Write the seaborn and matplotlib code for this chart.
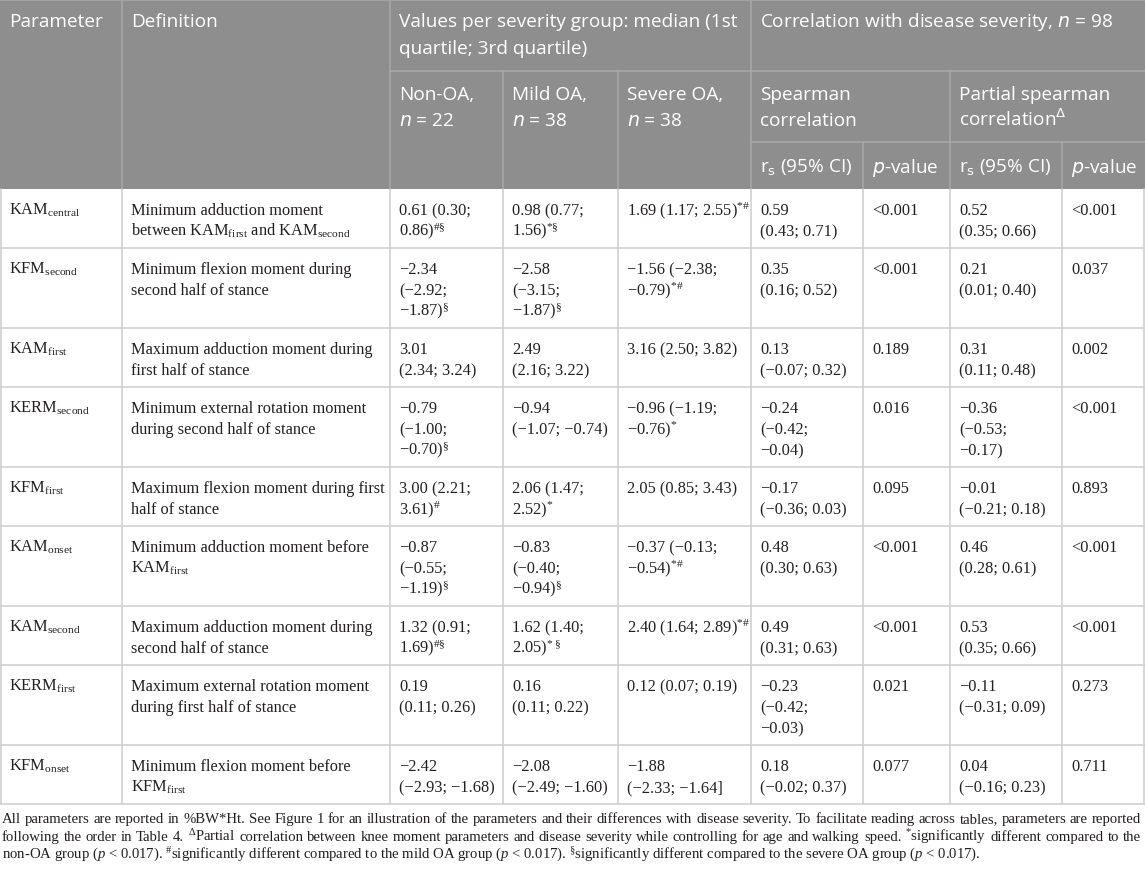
import matplotlib
matplotlib.use("Agg")
import matplotlib.pyplot as plt
import seaborn as sns

# table content, "|" marks a line break inside a cell
def sup(marks):
    rep = {"*": "*", "#": r"\#", "§": r"\mathrm{§}", " ": r"\;"}
    return "$^{" + "".join(rep[m] for m in marks) + "}$"

params = ["KAM$_{\\mathrm{central}}$", "KFM$_{\\mathrm{second}}$", "KAM$_{\\mathrm{first}}$",
          "KERM$_{\\mathrm{second}}$", "KFM$_{\\mathrm{first}}$", "KAM$_{\\mathrm{onset}}$",
          "KAM$_{\\mathrm{second}}$", "KERM$_{\\mathrm{first}}$", "KFM$_{\\mathrm{onset}}$"]

definitions = [
    "Minimum adduction moment|between KAM$_{\\mathrm{first}}$ and KAM$_{\\mathrm{second}}$",
    "Minimum flexion moment during|second half of stance",
    "Maximum adduction moment during|first half of stance",
    "Minimum external rotation moment|during second half of stance",
    "Maximum flexion moment during first|half of stance",
    "Minimum adduction moment before|KAM$_{\\mathrm{first}}$",
    "Maximum adduction moment during|second half of stance",
    "Maximum external rotation moment|during first half of stance",
    "Minimum flexion moment before|KFM$_{\\mathrm{first}}$",
]

non_oa = ["0.61 (0.30;|0.86)" + sup("#§"), "−2.34|(−2.92;|−1.87)" + sup("§"), "3.01|(2.34; 3.24)",
          "−0.79|(−1.00;|−0.70)" + sup("§"), "3.00 (2.21;|3.61)" + sup("#"),
          "−0.87|(−0.55;|−1.19)" + sup("§"), "1.32 (0.91;|1.69)" + sup("#§"),
          "0.19|(0.11; 0.26)", "−2.42|(−2.93; −1.68)"]

mild_oa = ["0.98 (0.77;|1.56)" + sup("*§"), "−2.58|(−3.15;|−1.87)" + sup("§"), "2.49|(2.16; 3.22)",
           "−0.94|(−1.07; −0.74)", "2.06 (1.47;|2.52)" + sup("*"),
           "−0.83|(−0.40;|−0.94)" + sup("§"), "1.62 (1.40;|2.05)" + sup("* §"),
           "0.16|(0.11; 0.22)", "−2.08|(−2.49; −1.60)"]

severe_oa = ["1.69 (1.17; 2.55)" + sup("*#"), "−1.56 (−2.38;|−0.79)" + sup("*#"), "3.16 (2.50; 3.82)",
             "−0.96 (−1.19;|−0.76)" + sup("*"), "2.05 (0.85; 3.43)",
             "−0.37 (−0.13;|−0.54)" + sup("*#"), "2.40 (1.64; 2.89)" + sup("*#"),
             "0.12 (0.07; 0.19)", "−1.88|(−2.33; −1.64]"]

rs_spearman = ["0.59|(0.43; 0.71)", "0.35|(0.16; 0.52)", "0.13|(−0.07; 0.32)", "−0.24|(−0.42;|−0.04)",
               "−0.17|(−0.36; 0.03)", "0.48|(0.30; 0.63)", "0.49|(0.31; 0.63)", "−0.23|(−0.42;|−0.03)",
               "0.18|(−0.02; 0.37)"]
p_spearman = ["<0.001", "<0.001", "0.189", "0.016", "0.095", "<0.001", "<0.001", "0.021", "0.077"]

rs_partial = ["0.52|(0.35; 0.66)", "0.21|(0.01; 0.40)", "0.31|(0.11; 0.48)", "−0.36|(−0.53;|−0.17)",
              "−0.01|(−0.21; 0.18)", "0.46|(0.28; 0.61)", "0.53|(0.35; 0.66)", "−0.11|(−0.31; 0.09)",
              "0.04|(−0.16; 0.23)"]
p_partial = ["<0.001", "0.037", "0.002", "<0.001", "0.893", "<0.001", "<0.001", "0.273", "0.711"]

header_top = ["Parameter", "Definition", "Values per severity group: median (1st|quartile; 3rd quartile)",
              "Correlation with disease severity, $n$ = 98"]
header_mid = ["Non-OA,|$n$ = 22", "Mild OA,|$n$ = 38", "Severe OA,|$n$ = 38", "Spearman|correlation",
              "Partial spearman|correlation$^{\\Delta}$"]
header_low = ["r$_{\\mathrm{s}}$ (95% CI)", "$p$-value", "r$_{\\mathrm{s}}$ (95% CI)", "$p$-value"]

footnote = [
    "All parameters are reported in %BW*Ht. See Figure 1 for an illustration of the parameters and their "
    "differences with disease severity. To facilitate reading across tables, parameters are reported",
    "following the order in Table 4. $^{\\Delta}$Partial correlation between knee moment parameters and disease "
    "severity while controlling for age and walking speed. $^{*}$significantly different compared to the",
    "non-OA group ($p$ < 0.017). $^{\\#}$significantly different compared to the mild OA group ($p$ < 0.017). "
    "$^{\\mathrm{§}}$significantly different compared to the severe OA group ($p$ < 0.017).",
]

sns.set_theme(style="white")
plt.rcParams["font.family"] = ["Liberation Serif", "DejaVu Serif"]
plt.rcParams["mathtext.fontset"] = "custom"
plt.rcParams["mathtext.rm"] = "Liberation Serif"
plt.rcParams["mathtext.it"] = "Liberation Serif:italic"
plt.rcParams["mathtext.bf"] = "Liberation Serif:bold"

W, H = 1145, 871
fig = plt.figure(figsize=(W / 100, H / 100), dpi=100)
ax = fig.add_axes([0, 0, 1, 1])
ax.set_xlim(0, W)
ax.set_ylim(H, 0)
ax.axis("off")
rend = fig.canvas.get_renderer()

HEAD_BG = "#8e8e8e"
HEAD_LINE = "#a9a9a9"
BODY_LINE = "#cdcdcd"
INK = "#231f20"
HEAD_FONT = ["Open Sans", "DejaVu Sans"]

cols = [0, 122, 390, 503, 618, 751, 863, 950, 1062, 1145]
pad = 9
h1, h2, h3 = 71, 142, 189


def width_of(s, size, **kw):
    t = ax.text(0, 0, s, fontsize=size, **kw)
    w = t.get_window_extent(renderer=rend).width
    t.remove()
    return w


def put(x, yb, s, size, step, **kw):
    for i, line in enumerate(s.split("|")):
        ax.text(x, yb + i * step, line, fontsize=size, va="baseline", ha="left", **kw)


head_size = 10 * 338 / width_of("Values per severity group: median (1st", 10, family=HEAD_FONT)
body_size = 10 * 220 / width_of("Minimum flexion moment before", 10)
foot_size = 10 * 1140 / width_of(footnote[0], 10)

# header block
ax.axhspan(0, h3, color=HEAD_BG, lw=0, zorder=0)
hk = dict(color="white", family=HEAD_FONT, math_fontfamily="dejavusans")
for c, s in zip([0, 1, 2, 5], header_top):
    put(cols[c] + pad, 27, s, head_size, 27, **hk)
for c, s in zip([2, 3, 4, 5, 7], header_mid):
    put(cols[c] + pad, h1 + 29, s, head_size, 26, **hk)
for c, s in zip([5, 6, 7, 8], header_low):
    put(cols[c] + pad, h2 + 31, s, head_size, 26, **hk)

lk = dict(color=HEAD_LINE, lw=1.1, zorder=1)
ax.plot([0, W], [0.5, 0.5], **lk)
for x in [cols[1], cols[2], cols[5]]:
    ax.plot([x, x], [0, h3], **lk)
for x in [cols[3], cols[4], cols[7]]:
    ax.plot([x, x], [h1, h3], **lk)
for x in [cols[6], cols[8]]:
    ax.plot([x, x], [h2, h3], **lk)
ax.plot([cols[2], W], [h1, h1], **lk)
ax.plot([cols[5], W], [h2, h2], **lk)

# body rows
columns = [params, definitions, non_oa, mild_oa, severe_oa, rs_spearman, p_spearman, rs_partial, p_partial]
bk = dict(color=BODY_LINE, lw=1.1, zorder=1)
top = h3
for r in range(len(params)):
    cells = [col[r] for col in columns]
    n_lines = max(len(c.split("|")) for c in cells)
    for c, s in enumerate(cells):
        put(cols[c] + pad, top + 26, s, body_size, 21, color=INK)
    top += 17 + 21 * n_lines
    ax.plot([0, W], [top, top], **bk)
for x in cols:
    xx = min(max(x, 0.6), W - 0.6)
    ax.plot([xx, xx], [h3, top], **bk)

# footnote, first two lines justified
fy = top + 19
for i, line in enumerate(footnote):
    yb = fy + i * 18
    if i < 2:
        words = line.split(" ")
        ts = [ax.text(0, yb, w, fontsize=foot_size, va="baseline", color=INK) for w in words]
        ws = [t.get_window_extent(renderer=rend).width for t in ts]
        gap = (1141 - 2 - sum(ws)) / (len(ws) - 1)
        x = 2
        for t, w in zip(ts, ws):
            t.set_x(x)
            x += w + gap
    else:
        ax.text(2, yb, line, fontsize=foot_size, va="baseline", color=INK)

fig.savefig("out.png", dpi=100, facecolor="white")
